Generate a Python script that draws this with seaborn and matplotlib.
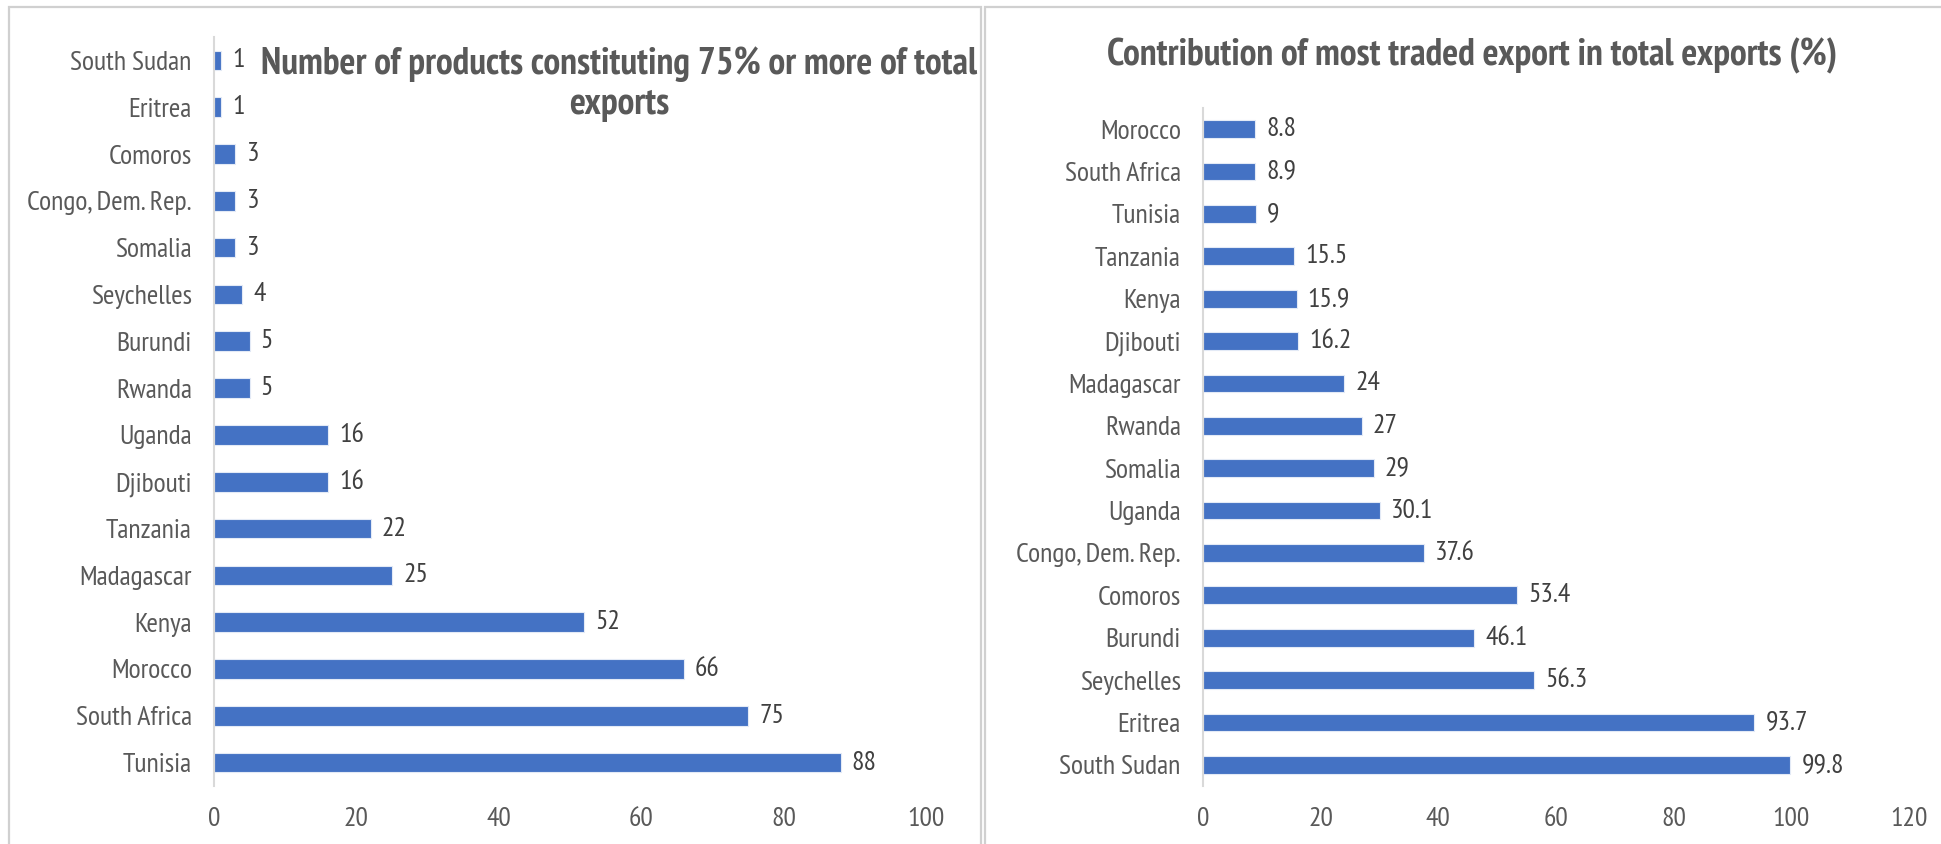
import matplotlib
matplotlib.use("Agg")
import matplotlib.pyplot as plt
from matplotlib.patches import Rectangle
import seaborn as sns
import pandas as pd

# Panel 1: number of products making up 75% or more of total exports
countries_products = ["South Sudan", "Eritrea", "Comoros", "Congo, Dem. Rep.", "Somalia",
                      "Seychelles", "Burundi", "Rwanda", "Uganda", "Djibouti", "Tanzania",
                      "Madagascar", "Kenya", "Morocco", "South Africa", "Tunisia"]
num_products = [1, 1, 3, 3, 3, 4, 5, 5, 16, 16, 22, 25, 52, 66, 75, 88]

# Panel 2: share of the most traded export in total exports (%)
countries_share = ["Morocco", "South Africa", "Tunisia", "Tanzania", "Kenya", "Djibouti",
                   "Madagascar", "Rwanda", "Somalia", "Uganda", "Congo, Dem. Rep.",
                   "Comoros", "Burundi", "Seychelles", "Eritrea", "South Sudan"]
top_export_share = [8.8, 8.9, 9, 15.5, 15.9, 16.2, 24, 27, 29, 30.1, 37.6, 53.4, 46.1,
                    56.3, 93.7, 99.8]

title_left = "Number of products constituting 75% or more of total\nexports"
title_right = "Contribution of most traded export in total exports (%)"
ticks_left = [0, 20, 40, 60, 80, 100]
ticks_right = [0, 20, 40, 60, 80, 100, 120]

BAR = "#4472C4"
TEXT = "#595959"
LABEL = "#404040"
GRID = "#D9D9D9"

sns.set_theme(style="white")
plt.rcParams["font.family"] = ["PT Sans Narrow", "DejaVu Sans"]

W, H = 1941, 844
fig = plt.figure(figsize=(W / 100, H / 100), dpi=100)


def px_axes(left, top, right, bottom):
    return fig.add_axes([left / W, 1 - bottom / H, (right - left) / W, (bottom - top) / H])


# panel frames
for x0, x1 in [(9, 981), (985, 1950)]:
    fig.patches.append(Rectangle((x0 / W, -0.02), (x1 - x0) / W, 1 - 7 / H + 0.02,
                                 transform=fig.transFigure, fill=False,
                                 edgecolor="#D0D0D0", linewidth=1.6))


def draw_panel(ax, cats, vals, xmax, ticks):
    df = pd.DataFrame({"country": cats, "value": vals})
    sns.barplot(data=df, x="value", y="country", orient="h", color=BAR, width=0.42,
                edgecolor="#E3EAF6", linewidth=0.8, saturation=1, ax=ax)
    for cont in ax.containers:
        ax.bar_label(cont, labels=[f"{v:g}" for v in vals], padding=8,
                     fontsize=20, color=LABEL)
    ax.set_xlim(0, xmax)
    ax.set_ylim(len(cats) - 0.5, -0.5)
    ax.set_xticks(ticks)
    ax.set_xlabel("")
    ax.set_ylabel("")
    ax.tick_params(axis="x", labelsize=20, labelcolor=TEXT, length=0, pad=15)
    ax.tick_params(axis="y", labelsize=20, labelcolor=TEXT, length=0, pad=16)
    for side in ["top", "right", "bottom"]:
        ax.spines[side].set_visible(False)
    ax.spines["left"].set_color(GRID)
    ax.spines["left"].set_linewidth(1.5)
    ax.set_facecolor("none")


ax1 = px_axes(214, 37, 926, 786)
draw_panel(ax1, countries_products, num_products, 100, ticks_left)

ax2 = px_axes(1203, 108, 1909, 786)
draw_panel(ax2, countries_share, top_export_share, 120, ticks_right)

fig.text(619 / W, 1 - 84 / H, title_left, ha="center", va="center", fontsize=27,
         fontweight="bold", color=TEXT, linespacing=1.2)
fig.text(1472 / W, 1 - 56 / H, title_right, ha="center", va="center", fontsize=27,
         fontweight="bold", color=TEXT)

fig.savefig("out.png", dpi=100, facecolor="white")
